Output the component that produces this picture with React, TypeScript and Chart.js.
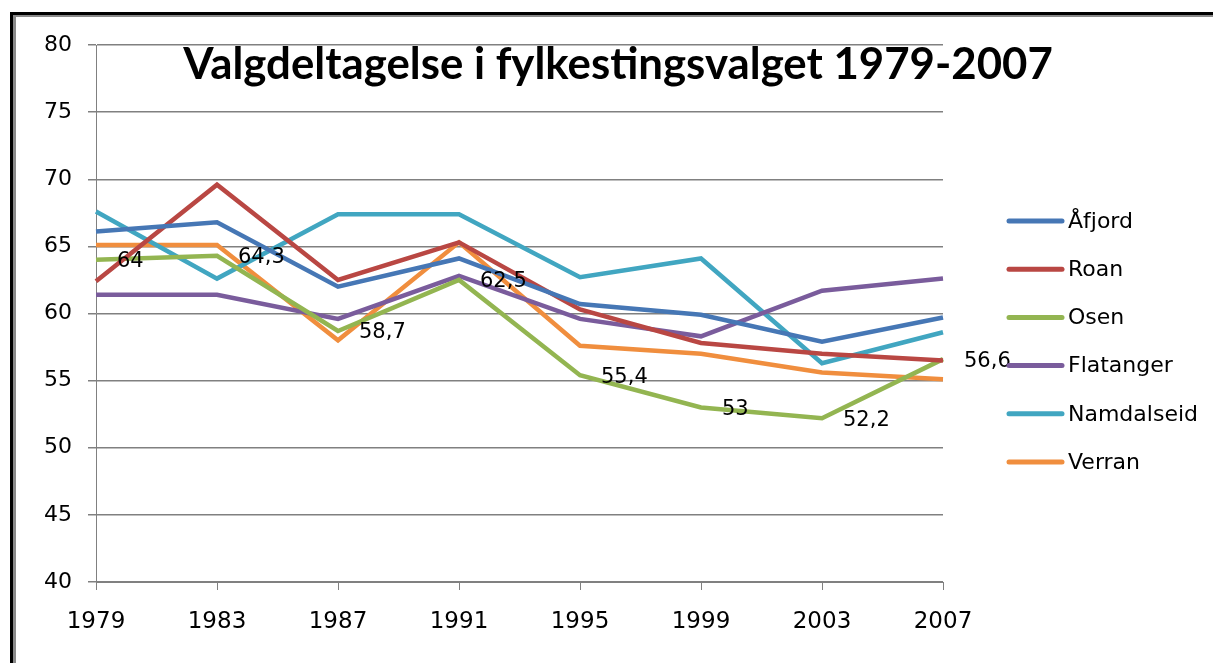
import React, { useEffect, useRef } from "react";
import { Chart, registerables } from "chart.js";

Chart.register(...registerables);

const years = ["1979", "1983", "1987", "1991", "1995", "1999", "2003", "2007"];
const afjord = [66.1, 66.8, 62.0, 64.1, 60.7, 59.9, 57.9, 59.7];
const roan = [62.4, 69.6, 62.5, 65.3, 60.3, 57.8, 57.0, 56.5];
const osen = [64, 64.3, 58.7, 62.5, 55.4, 53, 52.2, 56.6];
const flatanger = [61.4, 61.4, 59.6, 62.8, 59.6, 58.3, 61.7, 62.6];
const namdalseid = [67.6, 62.6, 67.4, 67.4, 62.7, 64.1, 56.3, 58.6];
const verran = [65.1, 65.1, 58.0, 65.3, 57.6, 57.0, 55.6, 55.1];

const seriesNames = ["Åfjord", "Roan", "Osen", "Flatanger", "Namdalseid", "Verran"];
const seriesValues = [afjord, roan, osen, flatanger, namdalseid, verran];
const seriesColors = ["#4677B5", "#B94743", "#93B551", "#7A5C9C", "#41A6C1", "#F08E3E"];
const labeledSeries = 2;

const titleText = "Valgdeltagelse i fylkestingsvalget 1979-2007";

const customPlugin = {
  id: "custom",
  afterDatasetsDraw(chart: any) {
    const ctx = chart.ctx;
    const meta = chart.getDatasetMeta(labeledSeries);
    ctx.save();
    ctx.fillStyle = "#000";
    ctx.font = "21px 'DejaVu Sans', sans-serif";
    ctx.textAlign = "left";
    ctx.textBaseline = "middle";
    meta.data.forEach((pt: any, i: number) => {
      const v = seriesValues[labeledSeries][i];
      ctx.fillText(String(v).replace(".", ","), pt.x + 21, pt.y + 2);
    });
    ctx.restore();
  },
  afterDraw(chart: any) {
    const ctx = chart.ctx;
    const area = chart.chartArea;
    ctx.save();
    let size = 44;
    ctx.font = `bold ${size}px Lato, 'Open Sans', sans-serif`;
    const w = ctx.measureText(titleText).width;
    size = size * (870 / w);
    ctx.font = `bold ${size}px Lato, 'Open Sans', sans-serif`;
    ctx.fillStyle = "#000";
    ctx.textAlign = "center";
    ctx.textBaseline = "alphabetic";
    ctx.fillText(titleText, 618, 79);
    ctx.restore();
    ctx.save();
    ctx.font = "22px 'DejaVu Sans', sans-serif";
    ctx.textAlign = "left";
    ctx.textBaseline = "middle";
    const x0 = area.right + 66;
    seriesNames.forEach((name, i) => {
      const y = 221 + i * 48.2;
      ctx.strokeStyle = seriesColors[i];
      ctx.lineWidth = 5;
      ctx.lineCap = "round";
      ctx.beginPath();
      ctx.moveTo(x0, y);
      ctx.lineTo(x0 + 53, y);
      ctx.stroke();
      ctx.fillStyle = "#000";
      ctx.fillText(name, x0 + 59, y + 1);
    });
    ctx.restore();
  },
};

export default function App() {
  const ref = useRef<HTMLCanvasElement | null>(null);

  useEffect(() => {
    document.body.style.margin = "0";
    const canvas = ref.current;
    if (!canvas) return;
    const chart = new Chart(canvas, {
      type: "line",
      data: {
        labels: years,
        datasets: seriesNames.map((name, i) => ({
          label: name,
          data: seriesValues[i],
          borderColor: seriesColors[i],
          backgroundColor: seriesColors[i],
          borderWidth: 4.5,
          pointRadius: 0,
          tension: 0,
          fill: false,
        })),
      },
      options: {
        animation: false,
        responsive: false,
        maintainAspectRatio: false,
        layout: { padding: { left: 0, right: 270, top: 45, bottom: 0 } },
        plugins: {
          legend: { display: false },
          title: { display: false },
          tooltip: { enabled: false },
        },
        scales: {
          x: {
            type: "category",
            offset: false,
            afterFit(scale: any) {
              scale.height = 81;
            },
            grid: {
              drawOnChartArea: false,
              drawTicks: true,
              tickLength: 8,
              color: "#808080",
              lineWidth: 1,
            },
            border: { color: "#808080", width: 1 },
            ticks: {
              color: "#000",
              padding: 18,
              maxRotation: 0,
              autoSkip: false,
              font: { family: "'DejaVu Sans', sans-serif", size: 23 },
            },
          },
          y: {
            min: 40,
            max: 80,
            afterFit(scale: any) {
              scale.width = 96;
            },
            ticks: {
              stepSize: 5,
              color: "#000",
              padding: 16,
              font: { family: "'DejaVu Sans', sans-serif", size: 22 },
            },
            grid: {
              color: "#808080",
              lineWidth: 1.5,
              tickLength: 8,
              drawTicks: true,
            },
            border: { color: "#808080", width: 1 },
          },
        },
      },
      plugins: [customPlugin],
    });
    return () => chart.destroy();
  }, []);

  return (
    <div
      style={{
        position: "fixed",
        left: 0,
        top: 0,
        width: 1213,
        height: 663,
        overflow: "hidden",
        background: "#fff",
      }}
    >
      <div
        style={{
          position: "absolute",
          left: 10,
          top: 12,
          right: -10,
          bottom: -10,
          borderLeft: "3px solid #000",
          borderTop: "3px solid #000",
        }}
      >
        <div
          style={{
            position: "absolute",
            left: 0,
            top: 0,
            right: 0,
            bottom: 0,
            borderLeft: "3px solid #8a8a8a",
            borderTop: "2px solid #8a8a8a",
          }}
        />
      </div>
      <canvas
        ref={ref}
        width={1213}
        height={663}
        style={{ position: "absolute", left: 0, top: 0, width: 1213, height: 663 }}
      />
    </div>
  );
}
